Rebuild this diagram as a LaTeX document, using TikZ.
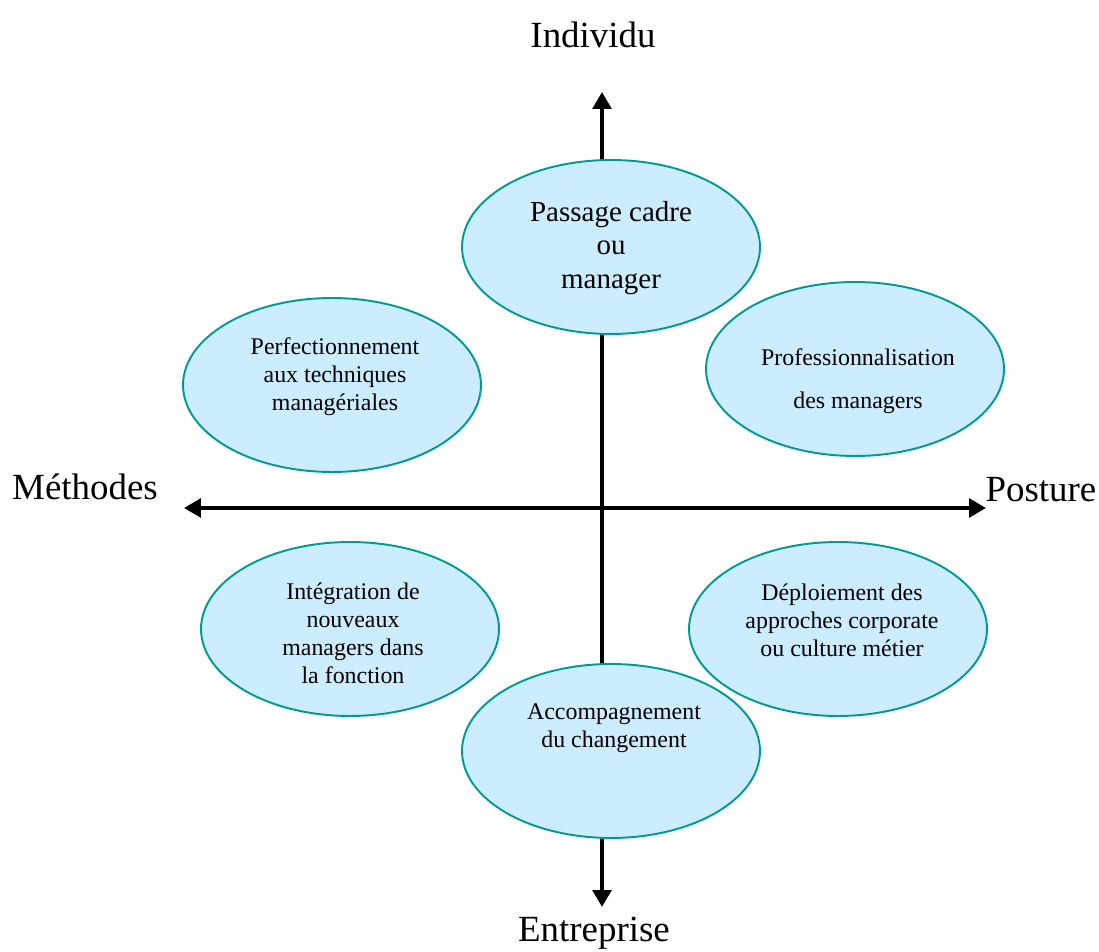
\documentclass[tikz,border=0pt]{standalone}
\usepackage{fontspec}
\setmainfont{Liberation Serif}
\usetikzlibrary{shapes.geometric,arrows.meta}

\definecolor{bulleFond}{RGB}{204,236,255}
\definecolor{bulleBord}{RGB}{0,153,153}

\begin{document}
\begin{tikzpicture}[x=0.02cm,y=-0.02cm,
		bulle/.style={ellipse,draw=bulleBord,fill=bulleFond,line width=1.1pt,minimum width=5.96cm,minimum height=3.48cm,inner sep=0pt},
		texte/.style={align=center,font=\fontsize{13.6}{15.9}\selectfont},
		axe/.style={line width=2.3pt,{Triangle[length=9.6pt,width=10.5pt]}-{Triangle[length=9.6pt,width=10.5pt]}},
		titre/.style={font=\fontsize{21}{25}\selectfont}]
		
		\useasboundingbox (0,0) rectangle (1099,952);
		
		% Axes
		\coordinate (haut) at (602,92);
		\coordinate (bas) at (602,907);
		\coordinate (gauche) at (184,508);
		\coordinate (droite) at (986,508);
		
		\draw[axe] (bas) -- (haut);
		\draw[axe] (gauche) -- (droite);
		
		%% Titres des axes
		\node[titre] (individu) at (593,35) {Individu};
		\node[titre] (entreprise) at (594,933) {Entreprise};
		\node[titre] (methodes) at (85,487) {Méthodes};
		\node[titre] (posture) at (1041,490) {Posture};
		
		% Bulles
		\node[bulle] (passage) at (611,247) {};
		\node[bulle] (perfection) at (332,385) {};
		\node[bulle] (profession) at (855,369) {};
		\node[bulle] (integration) at (350,629) {};
		\node[bulle] (deploiement) at (838,629) {};
		\node[bulle] (accompagnement) at (611,751) {};
		
		%% Textes des bulles
		\node[texte,font=\fontsize{16.5}{18.9}\selectfont] (passageTxt) at (611,248) {Passage cadre\\ou\\manager};
		\node[texte] (perfectionTxt) at (335,377) {Perfectionnement\\aux techniques\\managériales};
		\node[texte,font=\fontsize{13.6}{24.4}\selectfont] (professionTxt) at (858,381) {Professionnalisation\\des managers};
		\node[texte] (integrationTxt) at (353,633) {Intégration de\\nouveaux\\managers dans\\la fonction};
		\node[texte] (deploiementTxt) at (842,620) {Déploiement des\\approches corporate\\ou culture métier};
		\node[texte] (accompagnementTxt) at (614,728) {Accompagnement\\du changement};
		
	\end{tikzpicture}
\end{document}
